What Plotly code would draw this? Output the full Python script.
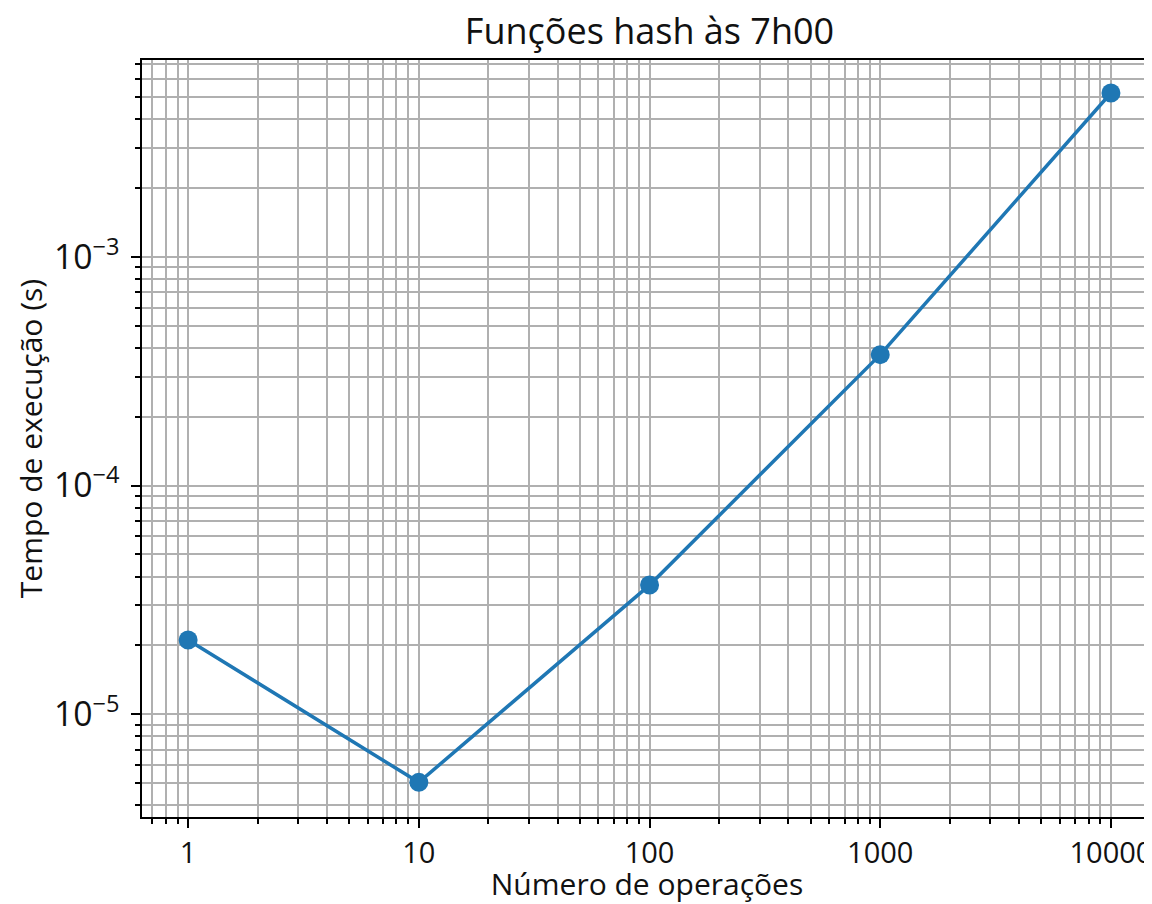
import plotly.graph_objects as go

# dados
operacoes = [1, 10, 100, 1000, 10000]
tempos = [2.11e-5, 5.03e-6, 3.67e-5, 3.74e-4, 5.22e-3]

x_ticks = [1, 10, 100, 1000, 10000]
x_labels = ['1', '10', '100', '1000', '10000']

FONT = 'Open Sans'
GRID = '#b0b0b0'

# the page body adds an 8px margin, so the figure is a bit smaller
fig = go.Figure(
    data=[go.Scatter(
        x=operacoes,
        y=tempos,
        mode='lines+markers',
        line={'color': '#1f77b4', 'width': 3.5},
        marker={'color': '#1f77b4', 'size': 19},
        showlegend=False
    )],
    layout=go.Layout(
        width=1144,
        height=896,
        paper_bgcolor='white',
        plot_bgcolor='white',
        margin=go.layout.Margin(l=134, r=0, t=52, b=87),
        font={'family': FONT, 'size': 29, 'color': '#111111'},
        title={
            'text': 'Funções hash às 7h00',
            'font': {'size': 36, 'family': FONT, 'color': '#111111'},
            'x': 0.5025, 'xref': 'paper', 'xanchor': 'center',
            'y': 0.974, 'yref': 'container', 'yanchor': 'middle'
        },
        xaxis={
            'type': 'log',
            'range': [-0.2, 4.178],
            'tickvals': x_ticks,
            'ticktext': x_labels,
            'tickfont': {'size': 29},
            'ticklabeloverflow': 'allow',
            'automargin': False,
            'ticks': 'outside',
            'ticklen': 9,
            'tickwidth': 2,
            'tickcolor': 'black',
            'showline': True,
            'linecolor': 'black',
            'linewidth': 2,
            'mirror': True,
            'showgrid': True,
            'gridcolor': GRID,
            'gridwidth': 2,
            'zeroline': False,
            'minor': {'dtick': 'D1', 'showgrid': True, 'gridcolor': GRID,
                      'gridwidth': 2, 'ticks': 'outside', 'ticklen': 5,
                      'tickwidth': 1.5, 'tickcolor': 'black'},
            'title': {'text': 'Número de operações', 'font': {'size': 30},
                      'standoff': 20}
        },
        yaxis={
            'type': 'log',
            'range': [-5.45, -2.138],
            'dtick': 1,
            'exponentformat': 'power',
            'tickfont': {'size': 27},
            'ticks': 'outside',
            'ticklen': 9,
            'tickwidth': 2,
            'tickcolor': 'black',
            'ticklabelstandoff': 6,
            'showline': True,
            'linecolor': 'black',
            'linewidth': 2,
            'showgrid': True,
            'gridcolor': GRID,
            'gridwidth': 2,
            'zeroline': False,
            'minor': {'dtick': 'D1', 'showgrid': True, 'gridcolor': GRID,
                      'gridwidth': 2, 'ticks': 'outside', 'ticklen': 5,
                      'tickwidth': 1.5, 'tickcolor': 'black'},
            'title': {'text': 'Tempo de execução (s)', 'font': {'size': 30},
                      'standoff': 2}
        }
    )
)

fig.write_html("out.html")
